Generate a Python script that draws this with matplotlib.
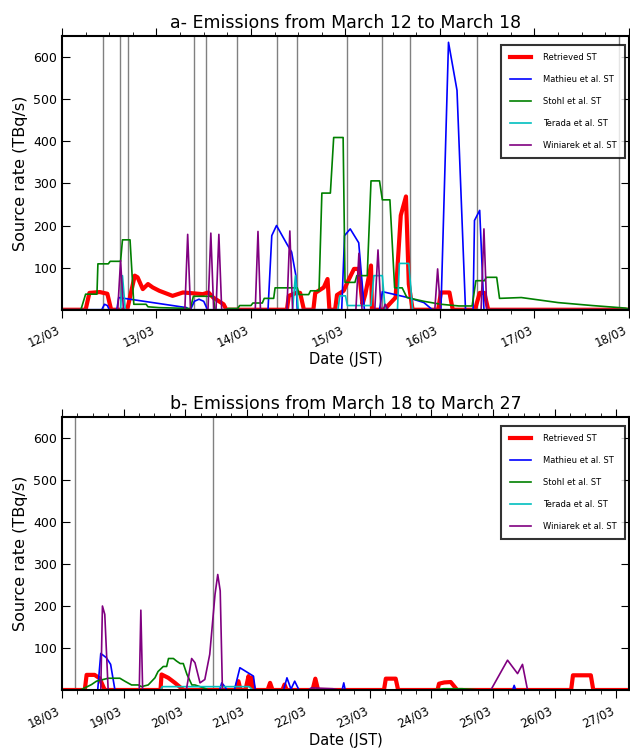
import numpy as np
import matplotlib
matplotlib.use('Agg')
import matplotlib.pyplot as plt
import matplotlib.dates as mdates
from datetime import datetime, timedelta

# times are given as day of March (e.g. 12.5 = 12/03 12:00 JST)

# ---- panel a: March 12 to March 18 ----
a_ret_t = [12.0, 12.25, 12.29, 12.40, 12.48, 12.52, 12.69, 12.77, 12.80, 12.855, 12.91, 12.96, 13.03, 13.17,
           13.28, 13.39, 13.49, 13.55, 13.60, 13.71, 13.74, 14.38, 14.40, 14.49, 14.52, 14.56, 14.66, 14.68,
           14.77, 14.81, 14.83, 14.89, 14.91, 14.98, 15.02, 15.09, 15.14, 15.18, 15.21, 15.27, 15.28, 15.41,
           15.48, 15.53, 15.585, 15.64, 15.67, 15.71, 15.98, 16.01, 16.10, 16.135, 16.37, 16.42, 16.47, 16.51, 18.0]
a_ret_v = [0, 0, 40, 42, 38, 0, 0, 81, 77, 49, 61, 53, 45, 33,
           41, 39, 37, 41, 29, 13, 0, 0, 33, 41, 40, 0, 0, 40,
           53, 73, 0, 0, 35, 45, 65, 97, 97, 13, 37, 105, 0, 0,
           17, 29, 224, 269, 61, 0, 0, 41, 41, 0, 0, 40, 40, 0, 0]

a_mat_t = [12.0, 12.42, 12.45, 12.48, 12.50, 12.58, 12.60, 13.32, 13.34, 13.36, 13.40, 13.45, 13.50, 13.54,
           14.18, 14.22, 14.27, 14.38, 14.43, 14.475, 14.49, 14.96, 14.99, 15.05, 15.14, 15.20, 15.36, 15.39,
           15.66, 15.83, 15.92, 16.01, 16.09, 16.18, 16.27, 16.35, 16.365, 16.42, 16.465, 18.0]
a_mat_v = [0, 0, 13, 10, 0, 0, 29, 5, 0, 0, 20, 25, 20, 0,
           0, 176, 200, 156, 137, 81, 0, 0, 176, 192, 159, 0, 0, 43,
           29, 17, 0, 0, 635, 521, 0, 0, 212, 236, 0, 0]

a_sto_t = [12.0, 12.2, 12.25, 12.37, 12.38, 12.49, 12.51, 12.62, 12.64, 12.72, 12.76, 12.89, 12.91, 13.03,
           13.36, 13.39, 13.60, 13.62, 13.73, 13.76, 13.86, 13.88, 14.0, 14.02, 14.12, 14.14, 14.24, 14.255,
           14.49, 14.51, 14.61, 14.63, 14.72, 14.75, 14.84, 14.875, 14.975, 14.995, 15.10, 15.12, 15.23, 15.27,
           15.36, 15.39, 15.47, 15.52, 15.60, 15.65, 15.83, 16.01, 16.20, 16.34, 16.38, 16.47, 16.49, 16.60,
           16.63, 16.86, 17.25, 17.61, 17.96, 18.0]
a_sto_v = [0, 0, 37, 37, 109, 109, 115, 115, 166, 166, 13, 13, 7, 5,
           3, 32, 32, 0, 0, 3, 3, 10, 10, 16, 16, 27, 27, 52,
           52, 36, 36, 45, 45, 277, 277, 409, 409, 65, 65, 81, 81, 306,
           306, 261, 261, 52, 52, 29, 20, 13, 9, 9, 69, 69, 77, 77,
           27, 29, 17, 10, 4, 2]

a_ter_t = [12.0, 12.62, 12.64, 12.67, 14.44, 14.47, 14.50, 14.92, 14.94, 15.0, 15.02, 15.27, 15.30, 15.39,
           15.42, 15.55, 15.57, 15.67, 15.71, 18.0]
a_ter_v = [0, 0, 81, 0, 0, 81, 0, 0, 33, 33, 10, 10, 81, 81,
           0, 0, 110, 110, 0, 0]

a_win_t = [12.0, 12.59, 12.62, 12.65, 13.30, 13.33, 13.36, 13.545, 13.575, 13.605, 13.63, 13.66, 13.69,
           14.045, 14.074, 14.10, 14.38, 14.411, 14.44, 15.11, 15.142, 15.175, 15.31, 15.344, 15.375, 15.40,
           15.42, 15.45, 15.945, 15.975, 16.005, 16.435, 16.465, 16.495, 18.0]
a_win_v = [0, 0, 117, 0, 0, 179, 0, 0, 182, 0, 0, 179, 0,
           0, 186, 0, 0, 187, 0, 0, 134, 0, 0, 142, 0, 0,
           13, 0, 0, 97, 0, 0, 192, 0, 0]

a_vlines = [12.439, 12.61, 12.695, 13.397, 13.524, 13.854, 14.273, 14.482, 15.02, 15.39, 15.684, 16.394, 17.89]

# ---- panel b: March 18 to March 27 ----
b_ret_t = [18.0, 18.37, 18.40, 18.53, 18.61, 18.695, 19.6, 19.617, 19.726, 19.835, 19.94, 19.98, 20.82,
           20.866, 20.9, 20.98, 21.03, 21.06, 21.08, 21.12, 21.34, 21.38, 21.42, 21.58, 21.615, 21.65, 22.07,
           22.115, 22.16, 23.23, 23.26, 23.42, 23.46, 24.10, 24.124, 24.21, 24.314, 24.42, 26.27, 26.30,
           26.59, 26.63, 27.2]
b_ret_v = [0, 0, 36, 36, 28, 0, 0, 37, 29, 17, 4, 0, 0,
           21, 0, 0, 33, 10, 29, 0, 0, 17, 0, 0, 13, 0, 0,
           27, 0, 0, 27, 27, 0, 0, 15, 18, 19, 0, 0, 35,
           35, 0, 0]

b_mat_t = [18.0, 18.58, 18.63, 18.72, 18.79, 18.86, 20.56, 20.595, 20.65, 20.68, 20.80, 20.89, 21.11, 21.14,
           21.60, 21.654, 21.72, 21.78, 21.85, 22.55, 22.577, 22.60, 25.32, 25.345, 25.37, 27.2]
b_mat_v = [0, 0, 87, 77, 61, 0, 0, 17, 7, 0, 0, 53, 33, 0,
           0, 29, 2, 21, 0, 0, 17, 0, 0, 11, 0, 0]

b_sto_t = [18.0, 18.3, 18.37, 18.48, 18.56, 18.75, 18.94, 19.02, 19.13, 19.24, 19.29, 19.40, 19.51, 19.56,
           19.645, 19.70, 19.73, 19.81, 19.86, 19.92, 19.97, 20.03, 20.11, 20.16, 20.32, 20.38, 24.0, 24.2,
           24.5, 24.8, 27.2]
b_sto_v = [0, 0, 5, 13, 21, 28, 28, 21, 12, 12, 8, 12, 29, 44,
           56, 56, 75, 75, 69, 63, 63, 37, 12, 12, 4, 0, 0, 3,
           3, 0, 0]

b_ter_t = [18.0, 19.60, 19.63, 21.04, 21.10, 27.2]
b_ter_v = [0, 0, 8, 8, 0, 0]

b_win_t = [18.0, 18.63, 18.657, 18.695, 18.75, 19.255, 19.281, 19.31, 20.02, 20.106, 20.16, 20.242, 20.32,
           20.40, 20.486, 20.53, 20.57, 20.606, 22.0, 22.05, 22.4, 22.5, 24.966, 25.237, 25.40, 25.48,
           25.562, 27.2]
b_win_v = [0, 0, 200, 180, 0, 0, 190, 0, 0, 75, 65, 17, 25,
           85, 228, 275, 236, 0, 0, 5, 3, 0, 0, 71, 39, 61,
           0, 0]

b_vlines = [18.207, 20.46]

labels = ['Retrieved ST', 'Mathieu et al. ST', 'Stohl et al. ST', 'Terada et al. ST', 'Winiarek et al. ST']
colors = ['red', 'blue', 'green', 'c', 'purple']
widths = [3, 1.2, 1.2, 1.2, 1.2]


def to_dates(days):
    base = datetime(2011, 3, 1)
    return [base + timedelta(days=d - 1) for d in days]


def panel(ax, series, vlines, start, end, title):
    for x in vlines:
        ax.axvline(to_dates([x])[0], color='grey', lw=1, zorder=1)
    for (t, v), lab, c, w in zip(series, labels, colors, widths):
        ax.plot(to_dates(t), v, color=c, lw=w, label=lab, zorder=2)
    ax.set_xlim(to_dates([start])[0], to_dates([end])[0])
    ax.set_ylim(0, 650)
    ax.set_yticks([100, 200, 300, 400, 500, 600])
    ax.xaxis.set_major_locator(mdates.DayLocator())
    ax.xaxis.set_minor_locator(mdates.HourLocator(byhour=[6, 12, 18]))
    ax.xaxis.set_major_formatter(mdates.DateFormatter('%d/%m'))
    ax.tick_params(axis='x', which='both', direction='out', top=True, labelsize=8.5)
    ax.tick_params(axis='x', which='major', length=6, pad=4)
    ax.tick_params(axis='x', which='minor', length=3)
    ax.tick_params(axis='y', direction='in', right=True, length=6, labelsize=9)
    plt.setp(ax.get_xticklabels(), rotation=25, ha='right')
    for s in ax.spines.values():
        s.set_linewidth(1.5)
    ax.set_title(title, fontsize=12.5)
    ax.set_xlabel('Date (JST)', fontsize=10.5, labelpad=2)
    ax.set_ylabel('Source rate (TBq/s)', fontsize=11.5)
    leg = ax.legend(loc='upper right', bbox_to_anchor=(0.993, 0.967), borderaxespad=0,
                    fontsize=6, labelspacing=1.55, borderpad=1.0,
                    handlelength=2.5, handletextpad=1.5, fancybox=False)
    leg.get_frame().set_edgecolor('black')
    leg.get_frame().set_linewidth(1.5)


fig = plt.figure(figsize=(6.3, 7.5), dpi=100)
ax1 = fig.add_axes([0.0984, 0.587, 0.9, 0.365])
ax2 = fig.add_axes([0.0984, 0.08, 0.9, 0.364])

panel(ax1, [(a_ret_t, a_ret_v), (a_mat_t, a_mat_v), (a_sto_t, a_sto_v), (a_ter_t, a_ter_v), (a_win_t, a_win_v)],
      a_vlines, 12.0, 18.0, 'a- Emissions from March 12 to March 18')
panel(ax2, [(b_ret_t, b_ret_v), (b_mat_t, b_mat_v), (b_sto_t, b_sto_v), (b_ter_t, b_ter_v), (b_win_t, b_win_v)],
      b_vlines, 18.0, 27.21, 'b- Emissions from March 18 to March 27')

plt.savefig('out.png', dpi=100)
